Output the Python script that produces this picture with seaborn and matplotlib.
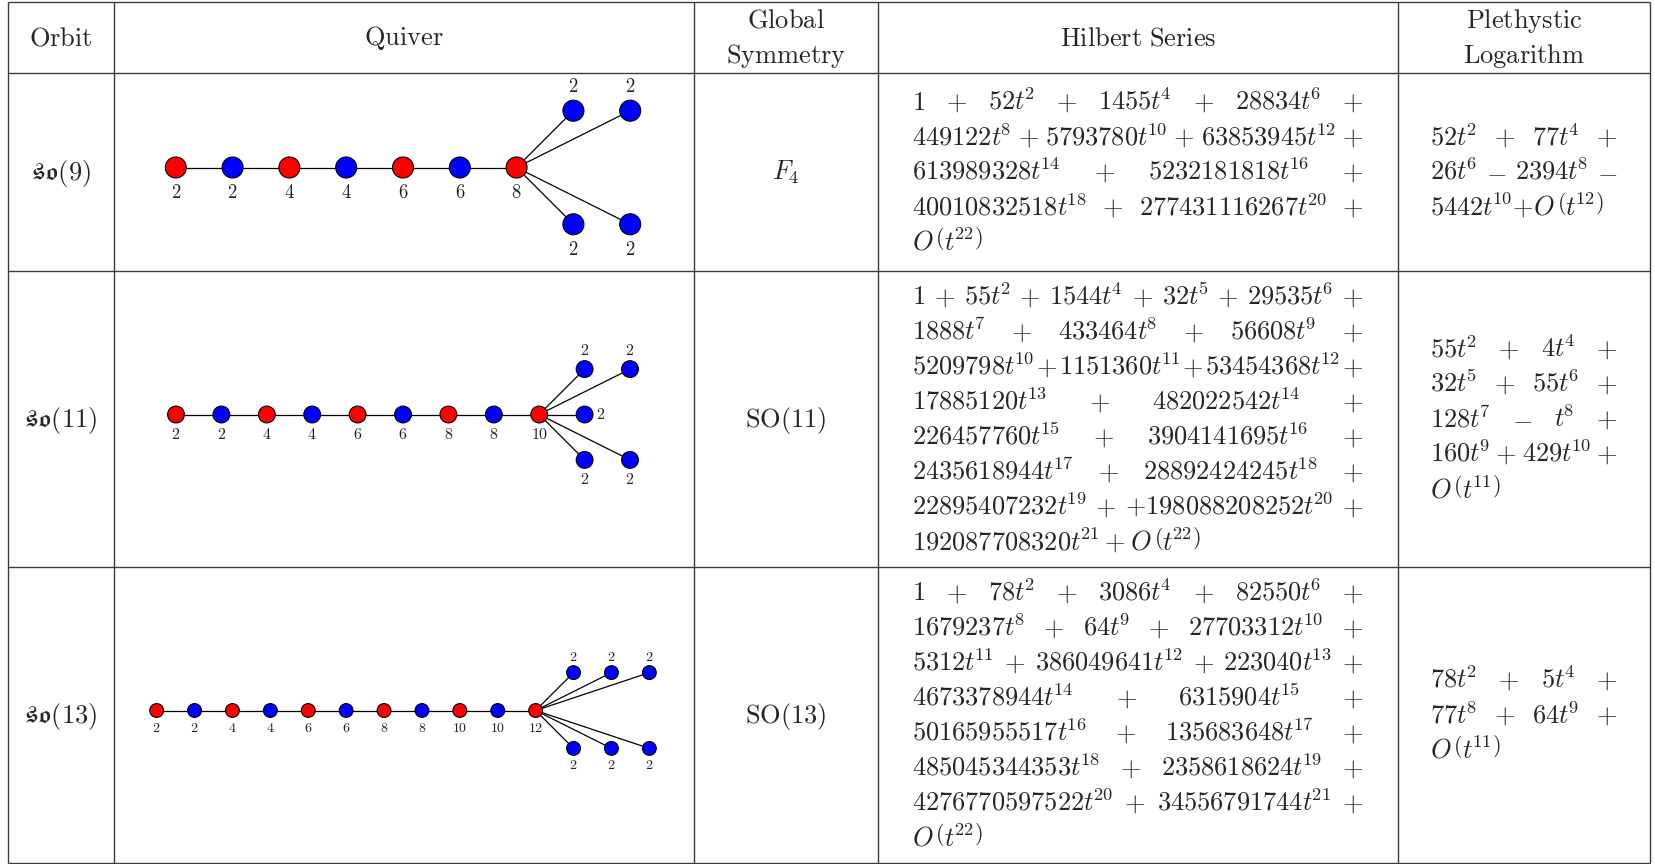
import re

import matplotlib
matplotlib.use("Agg")
import matplotlib.pyplot as plt
import pandas as pd
import seaborn as sns

# ---- table content -------------------------------------------------------
headers = [["Orbit"], ["Quiver"], ["Global", "Symmetry"], ["Hilbert\\ Series"],
           ["Plethystic", "Logarithm"]]

orbits = [r"\mathfrak{so}(9)", r"\mathfrak{so}(11)", r"\mathfrak{so}(13)"]
symmetries = [r"F_4", r"\mathrm{SO}(11)", r"\mathrm{SO}(13)"]

# gauge ranks along the linear chain (red/blue alternate, last node is central)
chain_ranks = [
    [2, 2, 4, 4, 6, 6, 8],
    [2, 2, 4, 4, 6, 6, 8, 8, 10],
    [2, 2, 4, 4, 6, 6, 8, 8, 10, 10, 12],
]
# extra nodes attached to the central node: (steps right, steps down)
extra_offsets = [
    [(1, -1), (2, -1), (1, 1), (2, 1)],
    [(1, -1), (2, -1), (1, 0), (1, 1), (2, 1)],
    [(1, -1), (2, -1), (3, -1), (1, 1), (2, 1), (3, 1)],
]
extra_ranks = [
    [2, 2, 2, 2],
    [2, 2, 2, 2, 2],
    [2, 2, 2, 2, 2, 2],
]

hilbert = [
    ["1 + 52t^2 + 1455t^4 + 28834t^6 +",
     "449122t^8 + 5793780t^{10} + 63853945t^{12} +",
     "613989328t^{14} + 5232181818t^{16} +",
     "40010832518t^{18} + 277431116267t^{20} +",
     r"O\,\left(t^{22}\right)"],
    ["1 + 55t^2 + 1544t^4 + 32t^5 + 29535t^6 +",
     "1888t^7 + 433464t^8 + 56608t^9 +",
     "5209798t^{10} + 1151360t^{11} + 53454368t^{12} +",
     "17885120t^{13} + 482022542t^{14} +",
     "226457760t^{15} + 3904141695t^{16} +",
     "2435618944t^{17} + 28892424245t^{18} +",
     "22895407232t^{19} + +198088208252t^{20} +",
     r"192087708320t^{21} + O\,\left(t^{22}\right)"],
    ["1 + 78t^2 + 3086t^4 + 82550t^6 +",
     "1679237t^8 + 64t^9 + 27703312t^{10} +",
     "5312t^{11} + 386049641t^{12} + 223040t^{13} +",
     "4673378944t^{14} + 6315904t^{15} +",
     "50165955517t^{16} + 135683648t^{17} +",
     "485045344353t^{18} + 2358618624t^{19} +",
     "4276770597522t^{20} + 34556791744t^{21} +",
     r"O\,\left(t^{22}\right)"],
]

pl = [
    ["52t^2 + 77t^4 +",
     "26t^6 - 2394t^8 -",
     r"5442t^{10}{+}O\,\left(t^{12}\right)"],
    ["55t^2 + 4t^4 +",
     "32t^5 + 55t^6 +",
     "128t^7 - t^8 +",
     "160t^9 + 429t^{10} +",
     r"O\,\left(t^{11}\right)"],
    ["78t^2 + 5t^4 +",
     "77t^8 + 64t^9 +",
     r"O\,\left(t^{11}\right)"],
]

# ---- layout --------------------------------------------------------------
W, H = 1655, 864
col_x = [8, 114, 694, 878, 1398, 1650]
row_y = [2, 73, 271, 567, 863]
fs = 19
line_h = 35
base_off = 8

spacing = [56.8, 45.4, 37.9]
node_r = [10.5, 8.4, 6.9]
lab_fs = [13.5, 11.5, 10]
lab_off = [25, 20, 17]
quiver_cx = 403

sns.set_theme(style="white")
plt.rcParams["mathtext.fontset"] = "cm"
plt.rcParams["font.family"] = ["DejaVu Sans"]

fig = plt.figure(figsize=(W / 100, H / 100), dpi=100)
ax = fig.add_axes([0, 0, 1, 1])
ax.set_xlim(0, W)
ax.set_ylim(H, 0)
ax.axis("off")
renderer = fig.canvas.get_renderer()

# grid lines
lc = "#3c3c3c"
for x in col_x:
    ax.plot([x, x], [row_y[0], row_y[-1]], color=lc, lw=1.0, solid_capstyle="butt")
for y in row_y:
    ax.plot([col_x[0], col_x[-1]], [y, y], color=lc, lw=1.0, solid_capstyle="butt")


def tex(s):
    # pull superscripts a bit closer to the italic t
    s = re.sub(r"t\^\{([^}]*)\}", r"t^{\\!\1}", s)
    s = re.sub(r"t\^(\d)", r"t^{\\!\1}", s)
    return "$" + s + "$"


def centers(i):
    return (col_x[i] + col_x[i + 1]) / 2


def block_baselines(n, top, bottom):
    c = (top + bottom) / 2
    return [c + (k - (n - 1) / 2) * line_h + base_off for k in range(n)]


def paragraph(lines, left, right, top, bottom):
    ys = block_baselines(len(lines), top, bottom)
    for k, (line, y) in enumerate(zip(lines, ys)):
        if k == len(lines) - 1:
            ax.text(left, y, tex(line), fontsize=fs, ha="left", va="baseline")
            continue
        toks = line.split(" ")
        texts = [ax.text(left, y, tex(t), fontsize=fs, ha="left", va="baseline")
                 for t in toks]
        widths = [t.get_window_extent(renderer).width for t in texts]
        gap = max(0.0, (right - left - sum(widths)) / (len(toks) - 1))
        x = left
        for t, w in zip(texts, widths):
            t.set_x(x)
            x += w + gap


# header
for i, h in enumerate(headers):
    for txt, y in zip(h, block_baselines(len(h), row_y[0], row_y[1])):
        ax.text(centers(i), y, r"$\mathrm{" + txt + "}$", fontsize=fs,
                ha="center", va="baseline")

for r in range(3):
    top, bottom = row_y[r + 1], row_y[r + 2]
    mid = (top + bottom) / 2
    ax.text(centers(0), mid + base_off, "$" + orbits[r] + "$", fontsize=fs,
            ha="center", va="baseline")
    ax.text(centers(2), mid + base_off, "$" + symmetries[r] + "$", fontsize=fs,
            ha="center", va="baseline")
    paragraph(hilbert[r], col_x[3] + 34, col_x[4] - 35, top, bottom)
    paragraph(pl[r], col_x[4] + 32, col_x[5] - 33, top, bottom)

    # quiver
    s, rad = spacing[r], node_r[r]
    n = len(chain_ranks[r])
    maxdx = max(dx for dx, dy in extra_offsets[r])
    x0 = quiver_cx - ((n - 1 + maxdx) * s) / 2
    y0 = mid - 4.5
    rows = []
    for i, rk in enumerate(chain_ranks[r]):
        rows.append({"x": x0 + i * s, "y": y0, "rank": rk,
                     "kind": "SO" if i % 2 == 0 else "USp", "dy": 0})
    cx = x0 + (n - 1) * s
    for (dx, dy), rk in zip(extra_offsets[r], extra_ranks[r]):
        rows.append({"x": cx + dx * s, "y": y0 + dy * s, "rank": rk,
                     "kind": "USp", "dy": dy})
    df = pd.DataFrame(rows)
    chain = df.iloc[:n]
    ax.plot(chain["x"], chain["y"], color="black", lw=0.9, zorder=1)
    for _, p in df.iloc[n:].iterrows():
        ax.plot([cx, p["x"]], [y0, p["y"]], color="black", lw=0.9, zorder=1)
    size = (2 * rad * 72 / 100) ** 2
    sns.scatterplot(data=df, x="x", y="y", hue="kind",
                    palette={"SO": "#ff0000", "USp": "#0000ff"},
                    s=size, edgecolor="black", linewidth=0.8, legend=False,
                    ax=ax, zorder=3)
    for k, p in df.iterrows():
        if k < n or p["dy"] > 0:
            lx, ly, ha, va = p["x"], p["y"] + lab_off[r], "center", "center"
        elif p["dy"] < 0:
            lx, ly, ha, va = p["x"], p["y"] - lab_off[r] + 1, "center", "center"
        else:
            lx, ly, ha, va = p["x"] + rad + 3, p["y"], "left", "center"
        ax.text(lx, ly, "$%d$" % p["rank"], fontsize=lab_fs[r], ha=ha, va=va,
                color="#222222")

ax.set_xlim(0, W)
ax.set_ylim(H, 0)
ax.set_xlabel("")
ax.set_ylabel("")
fig.savefig("out.png", dpi=100)
